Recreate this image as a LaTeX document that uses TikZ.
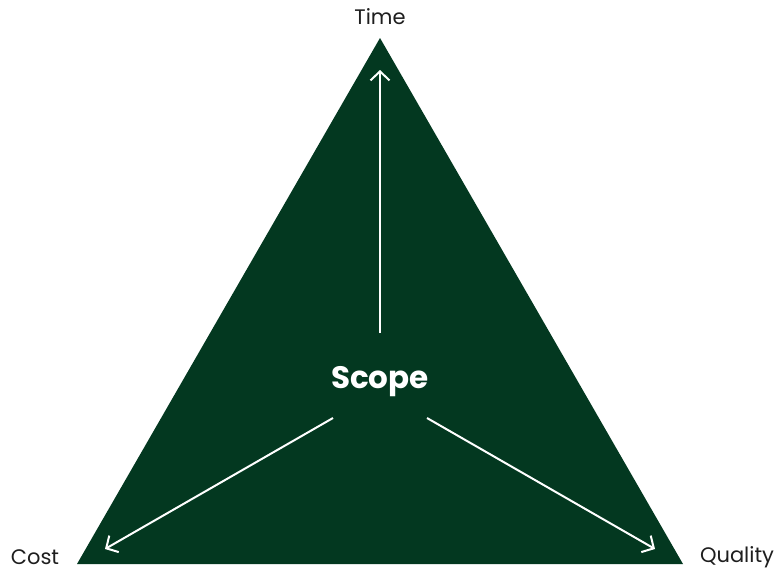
\documentclass[tikz,border=0pt]{standalone}
\usepackage{fontspec}
\setmainfont{Poppins}
\usetikzlibrary{arrows.meta}
\definecolor{ForestGreen}{RGB}{3,56,32}
\definecolor{LabelGray}{RGB}{30,30,30}

\tikzset{
	corner/.style={text=LabelGray, font=\fontsize{21}{24}\selectfont},
	push/.style={draw=white, line width=2pt, -{Straight Barb[length=9pt,width=19pt,line width=2pt]}}
}

\begin{document}
\begin{tikzpicture}[x=1pt, y=-1pt]
			\useasboundingbox (0,0) rectangle (777,571);
			% the triangle
			\coordinate (top) at (380,38);
			\coordinate (bl) at (77,564);
			\coordinate (br) at (683,564);
			\fill[ForestGreen] (top) -- (bl) -- (br) -- cycle;
			% labels
			\node[corner] (time) at (380,17) {Time};
			\node[corner] (cost) at (35,557) {Cost};
			\node[corner] (quality) at (737,557) {Quality};
			\node[text=white, font=\fontsize{31}{35}\selectfont\bfseries] (scope) at (380,382) {Scope};
			% arrows out of scope
			\coordinate (upS) at (380,333);
			\coordinate (upE) at (380,70);
			\coordinate (leftS) at (333,418);
			\coordinate (leftE) at (105,549);
			\coordinate (rightS) at (427,418);
			\coordinate (rightE) at (655,549);
			\draw[push] (upS) -- (upE);
			\draw[push] (leftS) -- (leftE);
			\draw[push] (rightS) -- (rightE);
		\end{tikzpicture}
\end{document}
